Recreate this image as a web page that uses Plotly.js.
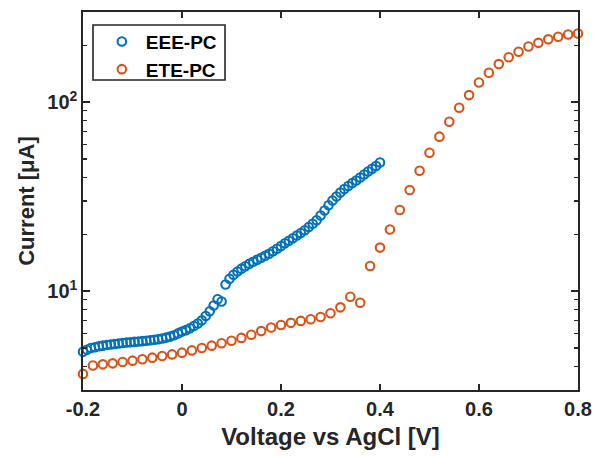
<!DOCTYPE html>
<html>
<head>
<meta charset="utf-8">
<script src="https://cdn.plot.ly/plotly-3.0.1.min.js"></script>
<style>
  html, body { margin: 0; padding: 0; background: #ffffff; }
  #chart { width: 597px; height: 456px; }
</style>
</head>
<body>
<div id="chart"></div>
<script>
// Linear sweep voltammetry, current on a log scale.

// EEE-PC: potential (V vs AgCl) and current (µA)
const eeeVoltage = [
  -0.200, -0.192, -0.184, -0.176, -0.168, -0.160, -0.152, -0.144, -0.136, -0.128,
  -0.120, -0.112, -0.104, -0.096, -0.088, -0.080, -0.072, -0.064, -0.056, -0.048,
  -0.040, -0.032, -0.024, -0.016, -0.008,  0.000,  0.008,  0.016,  0.024,  0.032,
   0.040,  0.048,  0.056,  0.064,  0.072,  0.080,  0.088,  0.096,  0.104,  0.112,
   0.120,  0.128,  0.136,  0.144,  0.152,  0.160,  0.168,  0.176,  0.184,  0.192,
   0.200,  0.208,  0.216,  0.224,  0.232,  0.240,  0.248,  0.256,  0.264,  0.272,
   0.280,  0.288,  0.296,  0.304,  0.312,  0.320,  0.328,  0.336,  0.344,  0.352,
   0.360,  0.368,  0.376,  0.384,  0.392,  0.400
];
const eeeCurrent = [
  4.78, 4.90, 5.00, 5.05, 5.11, 5.15, 5.19, 5.22, 5.25, 5.29,
  5.32, 5.35, 5.37, 5.39, 5.42, 5.44, 5.47, 5.50, 5.53, 5.57,
  5.62, 5.68, 5.75, 5.85, 5.98, 6.11, 6.22, 6.36, 6.54, 6.75,
  7.01, 7.39, 7.83, 8.40, 9.06, 8.82, 10.85, 11.63, 12.21, 12.71,
  13.16, 13.56, 13.98, 14.32, 14.67, 15.03, 15.41, 15.79, 16.26, 16.78,
  17.34, 17.92, 18.49, 19.07, 19.71, 20.32, 21.02, 21.85, 22.75, 23.74,
  25.14, 26.72, 28.50, 30.18, 31.69, 33.28, 34.72, 36.02, 37.36, 38.52,
  39.95, 41.44, 42.99, 44.43, 45.97, 47.97
];

// ETE-PC: potential (V vs AgCl) and current (µA)
const eteVoltage = [
  -0.20, -0.18, -0.16, -0.14, -0.12, -0.10, -0.08, -0.06, -0.04, -0.02,
   0.00,  0.02,  0.04,  0.06,  0.08,  0.10,  0.12,  0.14,  0.16,  0.18,
   0.20,  0.22,  0.24,  0.26,  0.28,  0.30,  0.32,  0.34,  0.36,  0.38,
   0.40,  0.42,  0.44,  0.46,  0.48,  0.50,  0.52,  0.54,  0.56,  0.58,
   0.60,  0.62,  0.64,  0.66,  0.68,  0.70,  0.72,  0.74,  0.76,  0.78,
   0.80
];
const eteCurrent = [
  3.65, 4.04, 4.10, 4.15, 4.22, 4.29, 4.36, 4.45, 4.54, 4.63,
  4.73, 4.86, 5.00, 5.15, 5.30, 5.47, 5.66, 5.88, 6.15, 6.42,
  6.62, 6.80, 6.96, 7.10, 7.30, 7.64, 8.21, 9.35, 8.69, 13.6,
  17.0, 21.2, 26.9, 34.3, 43.4, 54.0, 65.7, 78.8, 93.5, 109,
  127, 143, 159, 173, 185, 197, 206, 215, 222, 228,
  231
];

// Axis ticks
const xTickVals = [-0.2, 0, 0.2, 0.4, 0.6, 0.8];
const xTickText = ['-0.2', '0', '0.2', '0.4', '0.6', '0.8'];
const yTickVals = [10, 100];
const yTickText = ['10<sup>1</sup>', '10<sup>2</sup>'];
const yMinorVals = [3, 4, 5, 6, 7, 8, 9, 20, 30, 40, 50, 60, 70, 80, 90, 200, 300];

const FONT = 'Liberation Sans, Arial, sans-serif';
const INK = '#262626';

function series(name, x, y, color) {
  return {
    type: 'scatter',
    mode: 'markers',
    name: name,
    x: x,
    y: y,
    legendgroup: name,
    cliponaxis: false,
    marker: {
      symbol: 'circle-open',
      size: 8.5,
      color: color,
      line: { color: color, width: 2.1 }
    }
  };
}

const traces = [
  series('EEE-PC', eeeVoltage, eeeCurrent, '#0072BD'),
  series('ETE-PC', eteVoltage, eteCurrent, '#D95319')
];

const axisCommon = {
  showline: true,
  linecolor: INK,
  linewidth: 1.6,
  mirror: 'ticks',
  ticks: 'inside',
  ticklen: 6,
  tickwidth: 1.5,
  tickcolor: INK,
  showgrid: false,
  zeroline: false,
  tickfont: { family: FONT, size: 20, color: INK, weight: 'bold' }
};

const layout = {
  width: 597,
  height: 456,
  margin: { l: 83, r: 19, t: 12, b: 66 },
  paper_bgcolor: '#ffffff',
  plot_bgcolor: '#ffffff',
  showlegend: true,
  legend: {
    x: 0.03, y: 0.972,
    xanchor: 'left', yanchor: 'top',
    bgcolor: 'rgba(0,0,0,0)',
    borderwidth: 0,
    tracegroupgap: 0,
    itemwidth: 38,
    font: { family: FONT, size: 19, color: '#000000', weight: 'bold' }
  },
  // legend frame
  shapes: [{
    type: 'rect', xref: 'paper', yref: 'paper',
    x0: 0.0202, x1: 0.2869, y0: 0.8201, y1: 0.9656,
    line: { color: INK, width: 1.6 },
    fillcolor: 'rgba(0,0,0,0)',
    layer: 'below'
  }],
  xaxis: Object.assign({}, axisCommon, {
    range: [-0.2, 0.8],
    tickmode: 'array',
    tickvals: xTickVals,
    ticktext: xTickText,
    title: {
      text: 'Voltage vs AgCl [V]',
      font: { family: FONT, size: 24, color: INK, weight: 'bold' },
      standoff: 9
    }
  }),
  yaxis: Object.assign({}, axisCommon, {
    type: 'log',
    range: [Math.log10(3), Math.log10(300)],
    tickmode: 'array',
    tickvals: yTickVals,
    ticktext: yTickText,
    ticklen: 7,
    minor: {
      tickmode: 'array',
      tickvals: yMinorVals,
      ticks: 'inside',
      ticklen: 4,
      tickwidth: 1.2,
      tickcolor: INK,
      showgrid: false
    },
    title: {
      text: 'Current [μA]',
      font: { family: FONT, size: 22, color: INK, weight: 'bold' },
      standoff: 6
    }
  })
};

Plotly.newPlot('chart', traces, layout, { displayModeBar: false, staticPlot: true });
</script>
</body>
</html>
